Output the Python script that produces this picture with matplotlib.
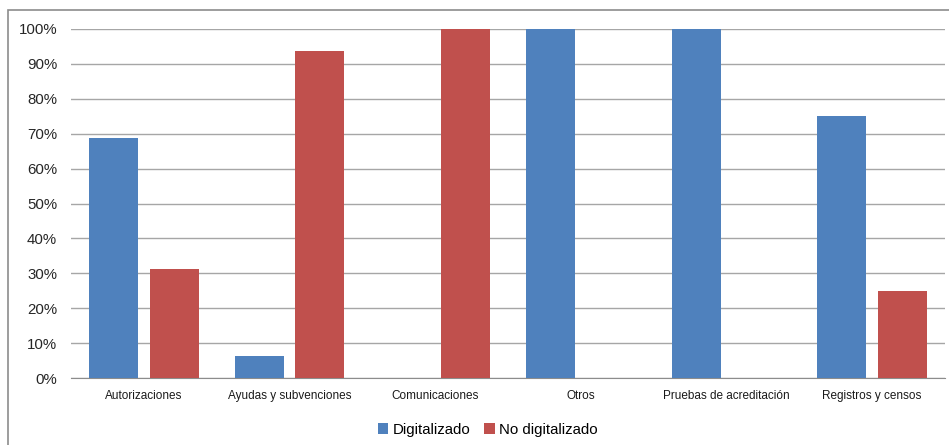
import numpy as np
import matplotlib
matplotlib.use('Agg')
import matplotlib.pyplot as plt
from matplotlib.patches import Rectangle

categories = ["Autorizaciones", "Ayudas y subvenciones", "Comunicaciones",
              "Otros", "Pruebas de acreditación", "Registros y censos"]
digitalizado = [68.75, 6.25, 0, 100, 100, 75]
no_digitalizado = [31.25, 93.75, 100, 0, 0, 25]
yticks = [0, 10, 20, 30, 40, 50, 60, 70, 80, 90, 100]

W, H = 949, 445
fig = plt.figure(figsize=(W / 100, H / 100), dpi=100)
fig.patch.set_facecolor("white")

# outer chart frame (cut off at right/bottom like the screenshot)
fig.patches.append(Rectangle((8 / W, -0.05), 1.05, 1 - 10 / H + 0.05,
                             transform=fig.transFigure, fill=False,
                             edgecolor="#8c8c8c", linewidth=1.2))

ax = fig.add_axes([71 / W, 1 - 378 / H, (945 - 71) / W, (378 - 29) / H])
x = np.arange(len(categories))
bw = 0.336
gap = 0.08
ax.bar(x - (bw + gap) / 2, digitalizado, bw, color="#4f81bd", label="Digitalizado", zorder=3)
ax.bar(x + (bw + gap) / 2, no_digitalizado, bw, color="#c0504d", label="No digitalizado", zorder=3)

ax.set_xlim(-0.5, len(categories) - 0.5)
ax.set_ylim(0, 100)
ax.set_yticks(yticks)
ax.set_yticklabels([f"{v}%" for v in yticks], fontsize=10.8, family="Liberation Sans",
                   color="#262626")
ax.set_xticks(x)
ax.set_xticklabels(categories, fontsize=8.5, family=["Liberation Sans Narrow", "Liberation Sans"],
                   va="baseline", color="#1a1a1a")
ax.tick_params(axis="x", length=0, pad=15)
ax.tick_params(axis="y", length=0, pad=10)
ax.grid(axis="y", color="#a6a6a6", linewidth=1, zorder=0)
for s in ["top", "right", "left"]:
    ax.spines[s].set_visible(False)
ax.spines["bottom"].set_color("#8c8c8c")

ax.legend(loc="upper center", bbox_to_anchor=(0.477, -0.09), ncol=2, frameon=False,
          handlelength=0.7, handleheight=0.7, handletextpad=0.3,
          columnspacing=0.9, prop={"family": "Liberation Sans", "size": 10.8})

fig.savefig("out.png", dpi=100)
